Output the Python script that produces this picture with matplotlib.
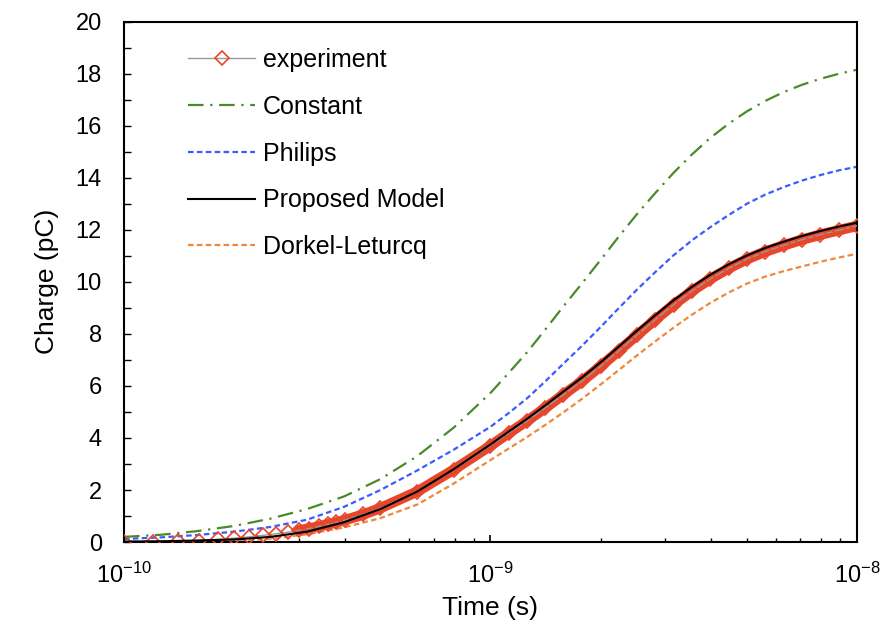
import matplotlib
matplotlib.use("Agg")
import matplotlib.pyplot as plt
from matplotlib.ticker import (LogLocator, LogFormatterSciNotation,
                               MultipleLocator, NullFormatter)
import numpy as np

plt.rcParams['font.family'] = ['Liberation Sans', 'DejaVu Sans']
plt.rcParams['mathtext.fontset'] = 'custom'
plt.rcParams['mathtext.rm'] = 'Liberation Sans'
plt.rcParams['mathtext.default'] = 'regular'

# time points (s) shared by the model curves
t = [1.0e-10, 1.26e-10, 1.58e-10, 2.0e-10, 2.51e-10, 3.16e-10, 3.98e-10,
     5.01e-10, 6.31e-10, 7.94e-10, 1.0e-9, 1.12e-9, 1.26e-9, 1.41e-9,
     1.58e-9, 1.78e-9, 2.0e-9, 2.24e-9, 2.51e-9, 2.82e-9, 3.16e-9, 3.55e-9,
     3.98e-9, 4.47e-9, 5.01e-9, 5.62e-9, 6.31e-9, 7.08e-9, 7.94e-9, 8.91e-9,
     1.0e-8]

# charge (pC) for each model
q_constant = [0.2, 0.28, 0.42, 0.62, 0.9, 1.27, 1.75, 2.42, 3.3, 4.4, 5.73,
              6.49, 7.3, 8.16, 9.05, 9.95, 10.85, 11.74, 12.6, 13.42, 14.19,
              14.9, 15.53, 16.08, 16.55, 16.95, 17.29, 17.57, 17.8, 17.99,
              18.15]
q_philips = [0.12, 0.18, 0.27, 0.4, 0.58, 0.86, 1.35, 2.0, 2.75, 3.55, 4.43,
             4.95, 5.53, 6.17, 6.85, 7.55, 8.27, 8.99, 9.7, 10.38, 11.02,
             11.6, 12.1, 12.57, 13.0, 13.35, 13.64, 13.89, 14.1, 14.28, 14.42]
q_proposed = [0.02, 0.03, 0.06, 0.1, 0.2, 0.4, 0.76, 1.27, 1.94, 2.8, 3.75,
              4.24, 4.74, 5.25, 5.78, 6.33, 6.91, 7.51, 8.12, 8.72, 9.29,
              9.81, 10.27, 10.67, 11.01, 11.3, 11.54, 11.76, 11.95, 12.12,
              12.27]
q_dorkel = [0.0, 0.01, 0.03, 0.06, 0.13, 0.3, 0.56, 0.92, 1.44, 2.25, 3.15,
            3.59, 4.04, 4.5, 4.98, 5.51, 6.06, 6.61, 7.17, 7.72, 8.24, 8.74,
            9.19, 9.59, 9.93, 10.2, 10.41, 10.59, 10.77, 10.93, 11.08]

# measured charge
t_exp = [1.0e-10, 1.2e-10, 1.4e-10, 1.6e-10, 1.8e-10, 2.0e-10, 2.2e-10,
         2.4e-10, 2.6e-10, 2.8e-10, 3.0e-10, 3.2e-10, 3.4e-10, 3.6e-10,
         3.8e-10, 4.0e-10, 4.5e-10, 5.0e-10, 6.31e-10, 7.94e-10, 1.0e-9,
         1.12e-9, 1.26e-9, 1.41e-9, 1.58e-9, 1.78e-9, 2.0e-9, 2.24e-9,
         2.51e-9, 2.82e-9, 3.16e-9, 3.55e-9, 3.98e-9, 4.47e-9, 5.01e-9,
         5.62e-9, 6.31e-9, 7.08e-9, 7.94e-9, 8.91e-9, 1.0e-8]
q_exp = [0.0, 0.02, 0.03, 0.06, 0.1, 0.15, 0.2, 0.26, 0.32, 0.38, 0.45,
         0.52, 0.6, 0.68, 0.76, 0.84, 1.06, 1.3, 1.94, 2.78, 3.7, 4.18, 4.66,
         5.15, 5.66, 6.19, 6.76, 7.35, 7.95, 8.55, 9.12, 9.65, 10.11, 10.52,
         10.87, 11.16, 11.4, 11.62, 11.81, 11.98, 12.15]

fig = plt.figure(figsize=(8.92, 6.34), dpi=100)
ax = fig.add_axes([0.139, 0.145, 0.8217, 0.821])

red = '#e8452a'
# dense experimental markers merge into a solid band
n0 = t_exp.index(3.0e-10)
ax.plot(t_exp[n0:], q_exp[n0:], color=red, lw=7.5, solid_capstyle='round',
        zorder=2)
ax.plot(t_exp, q_exp, color='#999999', lw=1, marker='D', markersize=7,
        markerfacecolor='none', markeredgecolor=red,
        markeredgewidth=1.2, label='experiment', zorder=3)
ax.plot(t, q_constant, color='#4a8a2a', lw=1.6,
        linestyle=(0, (7, 3, 1, 3)), label='Constant')
ax.plot(t, q_philips, color='#3b5bff', lw=1.6,
        linestyle=(0, (2.5, 1.5)), label='Philips')
ax.plot(t, q_proposed, color='black', lw=1.5, label='Proposed Model',
        zorder=4)
ax.plot(t, q_dorkel, color='#f0883c', lw=1.6,
        linestyle=(0, (2.5, 1.5)), label='Dorkel-Leturcq')

ax.set_xscale('log')
ax.set_xlim(1e-10, 1e-8)
ax.set_ylim(0, 20)
ax.xaxis.set_major_locator(LogLocator(base=10, numticks=10))
ax.xaxis.set_minor_locator(LogLocator(base=10, subs=np.arange(2, 10),
                                      numticks=10))
ax.xaxis.set_major_formatter(LogFormatterSciNotation())
ax.xaxis.set_minor_formatter(NullFormatter())
ax.yaxis.set_major_locator(MultipleLocator(2))
ax.yaxis.set_minor_locator(MultipleLocator(1))

ax.tick_params(axis='both', which='both', direction='in', labelsize=17,
               top=False, right=False)
ax.tick_params(axis='x', which='major', length=5, width=1.2, pad=15)
ax.tick_params(axis='x', which='minor', length=3, width=1)
ax.tick_params(axis='y', which='both', length=5, width=1, pad=16)
for s in ax.spines.values():
    s.set_linewidth(1.5)

ax.set_xlabel('Time (s)', fontsize=19, labelpad=6)
ax.set_ylabel('Charge (pC)', fontsize=19, labelpad=12)

ax.legend(loc='upper left', bbox_to_anchor=(0.087, 0.949), frameon=False,
          fontsize=18, handlelength=2.7, handletextpad=0.3,
          labelspacing=0.91, numpoints=1, borderaxespad=0, borderpad=0)

fig.savefig('out.png', dpi=100)
